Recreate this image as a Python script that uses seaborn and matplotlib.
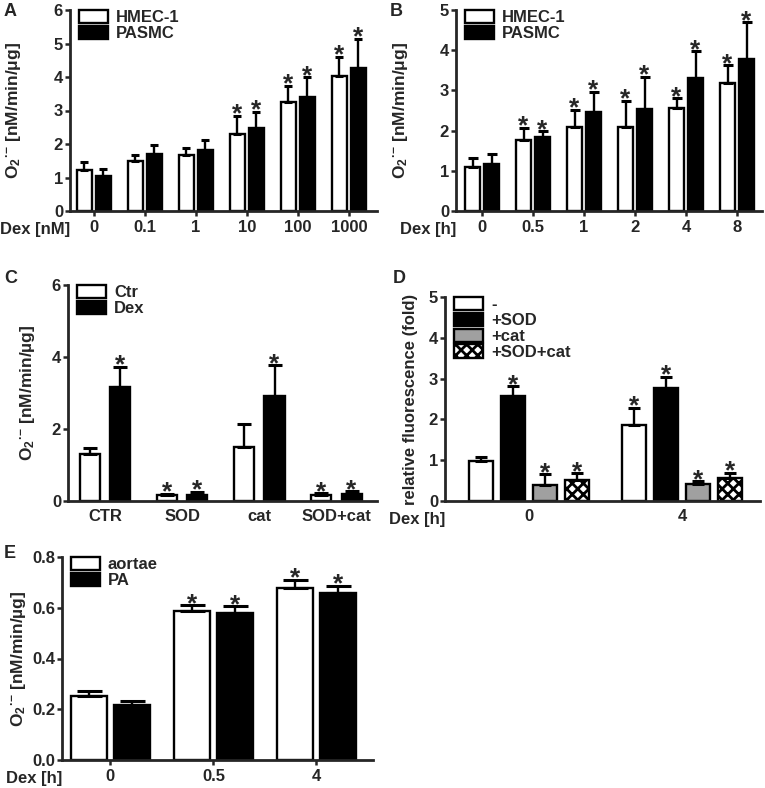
import numpy as np
import pandas as pd
import matplotlib
matplotlib.use("Agg")
import matplotlib.pyplot as plt
import seaborn as sns

# ---- data ----
# A: Dex dose
a_cats = ["0", "0.1", "1", "10", "100", "1000"]
a_hmec = [1.22, 1.50, 1.68, 2.29, 3.26, 4.03]
a_hmec_err = [0.24, 0.16, 0.20, 0.55, 0.48, 0.57]
a_pasmc = [1.05, 1.69, 1.81, 2.48, 3.41, 4.28]
a_pasmc_err = [0.19, 0.29, 0.31, 0.48, 0.59, 0.86]
a_star = [False, False, False, True, True, True]

# B: Dex time
b_cats = ["0", "0.5", "1", "2", "4", "8"]
b_hmec = [1.09, 1.76, 2.10, 2.08, 2.57, 3.19]
b_hmec_err = [0.23, 0.31, 0.42, 0.66, 0.24, 0.44]
b_pasmc = [1.17, 1.84, 2.47, 2.53, 3.32, 3.78]
b_pasmc_err = [0.24, 0.14, 0.50, 0.81, 0.65, 0.91]
b_star = [False, True, True, True, True, True]

# C: scavengers
c_cats = ["CTR", "SOD", "cat", "SOD+cat"]
c_ctr = [1.31, 0.17, 1.51, 0.16]
c_ctr_err = [0.17, 0.03, 0.63, 0.05]
c_dex = [3.18, 0.16, 2.92, 0.19]
c_dex_err = [0.55, 0.10, 0.85, 0.08]
c_ctr_star = [False, True, False, True]
c_dex_star = [True, True, True, True]

# D: relative fluorescence
d_cats = ["0", "4"]
d_groups = ["-", "+SOD", "+cat", "+SOD+cat"]
d_minus = [0.99, 1.87]
d_minus_err = [0.09, 0.41]
d_sod = [2.57, 2.77]
d_sod_err = [0.24, 0.27]
d_cat = [0.40, 0.42]
d_cat_err = [0.25, 0.07]
d_sodcat = [0.52, 0.56]
d_sodcat_err = [0.16, 0.13]
d_minus_star = [False, True]
d_other_star = [True, True]

# E: vessels
e_cats = ["0", "0.5", "4"]
e_aortae = [0.252, 0.589, 0.679]
e_aortae_err = [0.019, 0.020, 0.032]
e_pa = [0.215, 0.581, 0.658]
e_pa_err = [0.018, 0.025, 0.028]
e_star = [False, True, True]

# ---- style ----
sns.set_style("ticks")
plt.rcParams["font.family"] = ["Liberation Sans", "DejaVu Sans"]
plt.rcParams["font.weight"] = "bold"
plt.rcParams["axes.labelweight"] = "bold"
plt.rcParams["mathtext.fontset"] = "custom"
plt.rcParams["mathtext.rm"] = "Liberation Sans:bold"
plt.rcParams["mathtext.it"] = "Liberation Sans:bold"
plt.rcParams["mathtext.bf"] = "Liberation Sans:bold"
plt.rcParams["hatch.linewidth"] = 2.0

W, H = 765, 788
fig = plt.figure(figsize=(W / 100, H / 100), dpi=100)
FS = 12


def add_ax(left, right, top, bottom):
    return fig.add_axes([left / W, 1 - bottom / H, (right - left) / W, (bottom - top) / H])


O2_LABEL = "O$_2$$^{·{-}}$ [nM/min/µg]"


def panel(ax, cats, groups, means, errs, stars, colors, width, gap, xlim, ylim,
          yticks, ylabel, capsize, label_x, xticks=True, hatches=None, yfmt="{:g}",
          ylabel_fs=12.5):
    rows = []
    for g, m in zip(groups, means):
        for c, v in zip(cats, m):
            rows.append({"cat": c, "grp": g, "val": v})
    df = pd.DataFrame(rows)
    sns.barplot(data=df, x="cat", y="val", hue="grp", order=cats, hue_order=groups,
                palette=dict(zip(groups, colors)), width=width, gap=gap,
                edgecolor="black", linewidth=1.7, errorbar=None, legend=False,
                saturation=1, ax=ax)
    bars = list(ax.containers)
    for i, cont in enumerate(bars):
        for j, bar in enumerate(cont):
            if hatches and hatches[i]:
                bar.set_hatch(hatches[i])
            x = bar.get_x() + bar.get_width() / 2
            m, e = means[i][j], errs[i][j]
            ax.errorbar(x, m, yerr=[[0], [e]], fmt="none", ecolor="black",
                        elinewidth=1.7, capsize=capsize, capthick=2.2, zorder=3)
            if stars[i][j]:
                ax.annotate("*", xy=(x, m + e), xytext=(0, -4.2), textcoords="offset points",
                            ha="center", va="baseline", fontsize=19, fontweight="bold")
    ax.set_xlim(*xlim)
    ax.set_ylim(*ylim)
    ax.set_yticks(yticks)
    ax.set_yticklabels([yfmt.format(t) for t in yticks], fontweight="bold", fontsize=FS)
    ax.set_xticks(range(len(cats)))
    ax.set_xticklabels(cats, fontweight="bold", fontsize=FS)
    ax.set_xlabel("")
    ax.set_ylabel(ylabel, fontsize=ylabel_fs, fontweight="bold")
    ax.yaxis.set_label_coords(label_x, 0.5)
    sns.despine(ax=ax)
    for s in ("left", "bottom"):
        ax.spines[s].set_linewidth(2)
    ax.tick_params(axis="y", direction="out", length=3.5, width=1.8, pad=1.5)
    ax.tick_params(axis="x", direction="out", length=3.5 if xticks else 0, width=1.8,
                   pad=3 if xticks else 6)
    ax.legend(bars, groups, loc="upper left", bbox_to_anchor=(0.03, 1.0),
              frameon=False, prop={"weight": "bold", "size": FS}, handlelength=1.7,
              handleheight=0.85, handletextpad=0.5, labelspacing=0.02, borderpad=0,
              borderaxespad=0)
    return ax


# A
axA = add_ax(70, 377, 10, 211)
panel(axA, a_cats, ["HMEC-1", "PASMC"], [a_hmec, a_pasmc], [a_hmec_err, a_pasmc_err],
      [a_star, a_star], ["white", "black"], 0.745, 0.21, (-0.47, 5.55), (0, 6),
      [0, 1, 2, 3, 4, 5, 6], "O$_2$$^{·{-}}$ [nM/min/$\\mu$g]", 3.2, -0.153)

# B
axB = add_ax(456, 762, 10, 211)
panel(axB, b_cats, ["HMEC-1", "PASMC"], [b_hmec, b_pasmc], [b_hmec_err, b_pasmc_err],
      [b_star, b_star], ["white", "black"], 0.745, 0.21, (-0.51, 5.49), (0, 5),
      [0, 1, 2, 3, 4, 5], "O$_2$$^{·{-}}$ [nM/min/$\\mu$g]", 3.4, -0.15)

# C
axC = add_ax(68, 377, 285, 501)
panel(axC, c_cats, ["Ctr", "Dex"], [c_ctr, c_dex], [c_ctr_err, c_dex_err],
      [c_ctr_star, c_dex_star], ["white", "black"], 0.8, 0.35, (-0.48, 3.53), (0, 6),
      [0, 2, 4, 6], O2_LABEL, 5, -0.10, xticks=False)

# D
axD = add_ax(445, 760, 297, 501)
panel(axD, d_cats, d_groups, [d_minus, d_sod, d_cat, d_sodcat],
      [d_minus_err, d_sod_err, d_cat_err, d_sodcat_err],
      [d_minus_star, d_other_star, d_other_star, d_other_star],
      ["white", "black", "#a0a0a0", "white"], 0.84, 0.25, (-0.55, 1.51), (0, 5),
      [0, 1, 2, 3, 4, 5], "relative fluorescence (fold)", 4.5, -0.086, xticks=False,
      hatches=[None, None, None, "xxx"], ylabel_fs=12)

# E
axE = add_ax(62, 373, 557, 760)
panel(axE, e_cats, ["aortae", "PA"], [e_aortae, e_pa], [e_aortae_err, e_pa_err],
      [e_star, e_star], ["white", "black"], 0.84, 0.17, (-0.47, 2.55), (0, 0.8),
      [0, 0.2, 0.4, 0.6, 0.8], O2_LABEL, 9, -0.109, yfmt="{:.1f}")

# "Dex" axis captions
for ax, txt in [(axA, "Dex [nM]"), (axB, "Dex [h]"), (axD, "Dex [h]"), (axE, "Dex [h]")]:
    ax.annotate(txt, xy=(0, 0), xycoords="axes fraction", xytext=(0, -13),
                textcoords="offset points", ha="right", va="center", fontsize=FS,
                fontweight="bold")

# panel letters
for lbl, x, y in [("A", 4, 12), ("B", 390, 12), ("C", 4, 279), ("D", 393, 279), ("E", 4, 553)]:
    fig.text(x / W, 1 - y / H, lbl, fontsize=13, fontweight="bold", va="center", ha="left")

fig.savefig("out.png", dpi=100)
